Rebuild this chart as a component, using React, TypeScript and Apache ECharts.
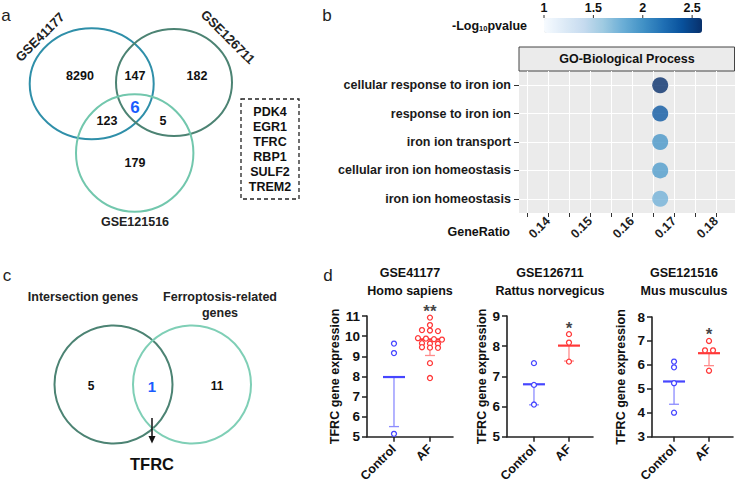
import React, { useEffect, useRef } from "react";
import * as echarts from "echarts";

// ---------- Panel a: three-dataset Venn ----------
const vennSets = ["GSE41177", "GSE126711", "GSE121516"];
// A only, A∩B, B only, A∩C, A∩B∩C, B∩C, C only
const vennCounts = [8290, 147, 182, 123, 6, 5, 179];
const commonGenes = ["PDK4", "EGR1", "TFRC", "RBP1", "SULF2", "TREM2"];

// ---------- Panel b: GO dot plot ----------
const goCategory = "GO-Biological Process";
const goTerms = [
  "cellular response to iron ion",
  "response to iron ion",
  "iron ion transport",
  "cellular iron ion homeostasis",
  "iron ion homeostasis",
];
const geneRatio = [0.1667, 0.1667, 0.1667, 0.1667, 0.1667];
const negLog10P = [2.6, 2.35, 1.97, 1.93, 1.77];
const ratioTicks = [0.135, 0.14, 0.145, 0.15, 0.155, 0.16, 0.165, 0.17, 0.175, 0.18];
const ratioLabels = [0.14, 0.15, 0.16, 0.17, 0.18];
const colorbarTicks = [1, 1.5, 2, 2.5];
const colorbarRange = [1, 2.6];

// ---------- Panel c: two-set Venn ----------
const vennCSets = ["Intersection genes", "Ferroptosis-related\ngenes"];
const vennCCounts = [5, 1, 11];
const vennCResult = "TFRC";

// ---------- Panel d: TFRC expression ----------
const groups = ["Control", "AF"];
const datasetNames = ["GSE41177", "GSE126711", "GSE121516"];
const speciesNames = ["Homo sapiens", "Rattus norvegicus", "Mus musculus"];
const ctrl41177 = [9.63, 9.16, 5.15];
const af41177 = [10.92, 10.55, 10.3, 10.28, 10.25, 9.9, 9.88, 9.85, 9.83, 9.65, 9.63, 9.62, 9.45, 9.43, 9.42, 8.66, 7.92];
const ctrl126711 = [7.44, 6.72, 6.07];
const af126711 = [8.4, 8.12, 7.49];
const ctrl121516 = [6.14, 5.9, 5.24, 4.01];
const af121516 = [7.0, 6.61, 6.61, 5.76];
const groupMeans = [[7.97, 9.84], [6.74, 8.02], [5.31, 6.49]];
const groupSD = [[2.46, 0.8], [0.68, 0.51], [0.95, 0.52]];
const yMins = [5, 5, 3];
const yMaxs = [11, 9, 8];
const significance = ["**", "*", "*"];

const FONT = "'Liberation Sans', Arial, Helvetica, sans-serif";
const BLUES = ["#f7fbff", "#deebf7", "#c6dbef", "#9ecae1", "#6baed6", "#4292c6", "#2171b5", "#08519c", "#08306b"];
const BLUE = "#4646ff";
const LBLUE = "#8c8cff";
const RED = "#ff3838";
const LRED = "#ff8c8c";

function swarmSlots(values: number[], thr: number): number[] {
  const order = values.map((_, i) => i).sort((a, b) => values[b] - values[a]);
  const slots = values.map(() => 0);
  let row: number[] = [];
  const flush = () => {
    row.forEach((k, j) => {
      slots[k] = j - (row.length - 1) / 2;
    });
    row = [];
  };
  order.forEach((k) => {
    if (row.length && values[row[0]] - values[k] > thr) flush();
    row.push(k);
  });
  flush();
  return slots;
}

function txt(x: number, y: number, text: string, o: any = {}) {
  const align = o.align || "center";
  return {
    type: "text",
    x,
    y,
    rotation: o.rotation || 0,
    z: 10,
    style: {
      text,
      fill: o.color || "#111",
      fontSize: o.size || 12.5,
      fontWeight: o.weight || "bold",
      fontFamily: FONT,
      align,
      textAlign: align,
      verticalAlign: "middle",
      textVerticalAlign: "middle",
      lineHeight: o.lineHeight,
    },
  };
}

export default function App() {
  const ref = useRef<HTMLDivElement>(null);

  useEffect(() => {
    if (!ref.current) return;
    const chart = echarts.init(ref.current, undefined, { renderer: "svg" });

    const dLayout = [
      { left: 367, top: 316, width: 86, height: 121, xmin: -0.75, xmax: 1.64, nameGap: 20, titleX: 410 },
      { left: 507, top: 316, width: 86, height: 121, xmin: -0.77, xmax: 1.686, nameGap: 17, titleX: 550 },
      { left: 652, top: 317, width: 81, height: 120, xmin: -0.63, xmax: 1.686, nameGap: 25, titleX: 684 },
    ];
    const ctrlSets = [ctrl41177, ctrl126711, ctrl121516];
    const afSets = [af41177, af126711, af121516];

    const grids: any[] = [
      { left: 519, top: 71, width: 216, height: 142, show: true, backgroundColor: "#ebebeb", borderWidth: 0 },
    ];
    const xAxes: any[] = [
      {
        type: "value",
        gridIndex: 0,
        min: 0.1331,
        max: 0.1845,
        axisLine: { show: false, onZero: false },
        axisTick: { show: true, length: 4, customValues: ratioTicks, lineStyle: { color: "#333", width: 1 } },
        axisLabel: {
          customValues: ratioLabels,
          rotate: 45,
          margin: 6,
          fontSize: 12.5,
          fontWeight: "bold",
          color: "#222",
          fontFamily: FONT,
          formatter: (v: number) => v.toFixed(2),
        },
        splitLine: { show: true, lineStyle: { color: "#ffffff", width: 1 } },
      },
    ];
    const yAxes: any[] = [
      {
        type: "value",
        gridIndex: 0,
        min: 0.5,
        max: 5.5,
        inverse: true,
        axisLine: { show: false, onZero: false },
        axisTick: { show: true, length: 5, customValues: [1, 2, 3, 4, 5], lineStyle: { color: "#333", width: 1 } },
        axisLabel: {
          customValues: [1, 2, 3, 4, 5],
          formatter: (v: number) => goTerms[Math.round(v) - 1] || "",
          fontSize: 12.5,
          fontWeight: "bold",
          color: "#1a1a1a",
          fontFamily: FONT,
          margin: 8,
        },
        splitLine: { show: true, lineStyle: { color: "#ffffff", width: 1.2 } },
      },
    ];

    const series: any[] = [
      {
        type: "scatter",
        xAxisIndex: 0,
        yAxisIndex: 0,
        symbolSize: 16,
        data: goTerms.map((_, i) => [geneRatio[i], i + 1, negLog10P[i]]),
      },
    ];

    dLayout.forEach((L, i) => {
      const gi = i + 1;
      grids.push({ left: L.left, top: L.top, width: L.width, height: L.height, show: false });
      xAxes.push({
        type: "value",
        gridIndex: gi,
        min: L.xmin,
        max: L.xmax,
        axisLine: { show: true, onZero: false, lineStyle: { color: "#222", width: 1.6 } },
        axisTick: { show: true, length: 5, customValues: [0, 1], lineStyle: { color: "#222", width: 1.5 } },
        axisLabel: {
          customValues: [0, 1],
          formatter: (v: number) => groups[Math.round(v)] || "",
          rotate: 45,
          margin: 10,
          fontSize: 12.5,
          fontWeight: "bold",
          color: "#111",
          fontFamily: FONT,
        },
        splitLine: { show: false },
      });
      yAxes.push({
        type: "value",
        gridIndex: gi,
        min: yMins[i],
        max: yMaxs[i],
        interval: 1,
        name: "TFRC gene expression",
        nameLocation: "middle",
        nameGap: L.nameGap,
        nameTextStyle: { fontSize: 12.5, fontWeight: "bold", color: "#111", fontFamily: FONT },
        axisLine: { show: true, onZero: false, lineStyle: { color: "#222", width: 1.6 } },
        axisTick: { show: true, length: 5, lineStyle: { color: "#222", width: 1.5 } },
        axisLabel: { fontSize: 13.5, fontWeight: "bold", color: "#111", margin: 7, fontFamily: FONT },
        splitLine: { show: false },
      });

      // mean and SD (lower) bars
      series.push({
        type: "custom",
        coordinateSystem: "cartesian2d",
        xAxisIndex: gi,
        yAxisIndex: gi,
        z: 2,
        data: groups.map((_, g) => [g, groupMeans[i][g], groupMeans[i][g] - groupSD[i][g]]),
        renderItem: (params: any, api: any) => {
          const g = api.value(0);
          const c = api.coord([g, api.value(1)]);
          const l = api.coord([g, api.value(2)]);
          const col = g === 0 ? BLUE : RED;
          const light = g === 0 ? LBLUE : LRED;
          return {
            type: "group",
            children: [
              { type: "line", shape: { x1: c[0], y1: c[1], x2: c[0], y2: l[1] }, style: { stroke: light, lineWidth: 1.3 } },
              { type: "line", shape: { x1: l[0] - 5, y1: l[1], x2: l[0] + 5, y2: l[1] }, style: { stroke: light, lineWidth: 1.3 } },
              { type: "line", shape: { x1: c[0] - 11, y1: c[1], x2: c[0] + 11, y2: c[1] }, style: { stroke: col, lineWidth: 2.2 } },
            ],
          };
        },
      });

      // individual samples
      const thr = (yMaxs[i] - yMins[i]) * 0.02;
      const cs = swarmSlots(ctrlSets[i], thr);
      const as = swarmSlots(afSets[i], thr);
      const pts = [
        ...ctrlSets[i].map((v, k) => [0, v, cs[k]]),
        ...afSets[i].map((v, k) => [1, v, as[k]]),
      ];
      series.push({
        type: "custom",
        coordinateSystem: "cartesian2d",
        xAxisIndex: gi,
        yAxisIndex: gi,
        z: 3,
        data: pts,
        renderItem: (params: any, api: any) => {
          const g = api.value(0);
          const c = api.coord([g, api.value(1)]);
          return {
            type: "circle",
            shape: { cx: c[0] + api.value(2) * 8, cy: c[1], r: 2.5 },
            style: { fill: "#ffffff", stroke: g === 0 ? BLUE : RED, lineWidth: 1.3 },
          };
        },
      });

      // significance stars
      series.push({
        type: "scatter",
        xAxisIndex: gi,
        yAxisIndex: gi,
        symbolSize: 1,
        itemStyle: { color: "rgba(0,0,0,0)" },
        data: [[1, Math.max(...afSets[i])]],
        label: {
          show: true,
          formatter: significance[i],
          position: "inside",
          offset: [0, -6],
          fontSize: 17,
          fontWeight: "bold",
          color: "#111",
          fontFamily: FONT,
        },
      });
    });

    // ---------- graphic elements ----------
    const graphic: any[] = [];
    // panel letters
    graphic.push(txt(6, 15, "a", { size: 17, weight: "normal", color: "#222" }));
    graphic.push(txt(327, 15, "b", { size: 17, weight: "normal", color: "#222" }));
    graphic.push(txt(7, 275, "c", { size: 17, weight: "normal", color: "#222" }));
    graphic.push(txt(328, 275, "d", { size: 17, weight: "normal", color: "#222" }));

    // panel a venn
    const vennAGeom = [
      { cx: 91.7, cy: 83.8, rx: 62, ry: 55.5, color: "#2f8fa9" },
      { cx: 174, cy: 82.5, rx: 58, ry: 53.5, color: "#4c8373" },
      { cx: 134.7, cy: 153, rx: 58.7, ry: 58.7, color: "#72c7ad" },
    ];
    vennAGeom.forEach((e) =>
      graphic.push({
        type: "ellipse",
        shape: { cx: e.cx, cy: e.cy, rx: e.rx, ry: e.ry },
        style: { fill: "none", stroke: e.color, lineWidth: 2 },
      })
    );
    const vennAPos = [[80, 76], [135, 76], [197, 76], [107, 121], [135, 107], [163, 121], [135, 163]];
    vennCounts.forEach((n, k) => {
      const center = k === 4;
      graphic.push(
        txt(vennAPos[k][0], vennAPos[k][1], String(n), {
          size: center ? 17 : 12.5,
          color: center ? "#1a5cff" : "#111",
        })
      );
    });
    graphic.push(txt(40, 37, vennSets[0], { size: 13, rotation: Math.PI / 4, weight: "bold", color: "#222" }));
    graphic.push(txt(228, 37, vennSets[1], { size: 13, rotation: -Math.PI / 4, weight: "bold", color: "#222" }));
    graphic.push(txt(135, 222, vennSets[2], { size: 12.5, color: "#222" }));
    graphic.push({
      type: "rect",
      shape: { x: 241, y: 99, width: 58, height: 100 },
      style: { fill: "none", stroke: "#222", lineWidth: 1.3, lineDash: [4, 3] },
    });
    commonGenes.forEach((g, k) => graphic.push(txt(270, 112 + k * 15, g, { size: 12.5 })));

    // panel b: strip, titles, colorbar labels
    graphic.push({
      type: "rect",
      shape: { x: 519, y: 47, width: 215.5, height: 24 },
      style: { fill: "#ebebeb", stroke: "#444", lineWidth: 1 },
    });
    graphic.push(txt(627, 59, goCategory, { size: 12.5 }));
    graphic.push(txt(510, 232, "GeneRatio", { size: 12.5, align: "right" }));
    graphic.push({
      type: "text",
      x: 527,
      y: 24,
      z: 10,
      style: {
        text: "{m|-Log}{s|10}{m|pvalue}",
        align: "right",
        textAlign: "right",
        verticalAlign: "middle",
        textVerticalAlign: "middle",
        rich: {
          m: { fontSize: 12.5, fontWeight: "bold", fontFamily: FONT, fill: "#111", color: "#111", lineHeight: 16, verticalAlign: "bottom" },
          s: { fontSize: 7.5, fontWeight: "bold", fontFamily: FONT, fill: "#111", color: "#111", lineHeight: 8, verticalAlign: "bottom" },
        },
      },
    });
    const cbLeft = 544;
    const cbLen = 158;
    colorbarTicks.forEach((v) => {
      const x = cbLeft + ((v - colorbarRange[0]) / (colorbarRange[1] - colorbarRange[0])) * cbLen;
      graphic.push(txt(x, 8, String(v), { size: 12.5 }));
      graphic.push({ type: "line", shape: { x1: x, y1: 15, x2: x, y2: 18 }, style: { stroke: "#333", lineWidth: 1 } });
    });

    // panel c venn
    const vennCGeom = [
      { cx: 113.5, cy: 384.5, r: 59, color: "#4c8373" },
      { cx: 192, cy: 384.5, r: 59, color: "#7fcfb6" },
    ];
    vennCGeom.forEach((e) =>
      graphic.push({
        type: "circle",
        shape: { cx: e.cx, cy: e.cy, r: e.r },
        style: { fill: "none", stroke: e.color, lineWidth: 2 },
      })
    );
    graphic.push(txt(83, 297, vennCSets[0], { size: 12.5, color: "#222" }));
    graphic.push(txt(220, 305, vennCSets[1], { size: 12.5, color: "#222", lineHeight: 16 }));
    const vennCPos = [[91, 386], [152, 386], [217, 386]];
    vennCCounts.forEach((n, k) =>
      graphic.push(
        txt(vennCPos[k][0], vennCPos[k][1], String(n), {
          size: k === 1 ? 15 : 12,
          color: k === 1 ? "#1a5cff" : "#111",
        })
      )
    );
    graphic.push({ type: "line", shape: { x1: 152, y1: 418, x2: 152, y2: 437 }, style: { stroke: "#111", lineWidth: 1.5 } });
    graphic.push({
      type: "polygon",
      shape: { points: [[148.5, 436], [155.5, 436], [152, 443.5]] },
      style: { fill: "#111" },
    });
    graphic.push(txt(152, 464, vennCResult, { size: 16.5 }));

    // panel d titles
    dLayout.forEach((L, i) => {
      graphic.push(txt(L.titleX, 273, datasetNames[i], { size: 12.5 }));
      graphic.push(txt(L.titleX, 291, speciesNames[i], { size: 12.5 }));
    });

    chart.setOption({
      animation: false,
      textStyle: { fontFamily: FONT },
      grid: grids,
      xAxis: xAxes,
      yAxis: yAxes,
      visualMap: {
        type: "continuous",
        min: colorbarRange[0],
        max: colorbarRange[1],
        seriesIndex: 0,
        dimension: 2,
        orient: "horizontal",
        left: cbLeft,
        top: 18,
        itemWidth: 15,
        itemHeight: cbLen,
        calculable: false,
        padding: 0,
        inRange: { color: BLUES },
      },
      series,
      graphic,
    });

    return () => chart.dispose();
  }, []);

  return <div ref={ref} style={{ position: "fixed", left: 0, top: 0, width: 735, height: 485, background: "#fff" }} />;
}
